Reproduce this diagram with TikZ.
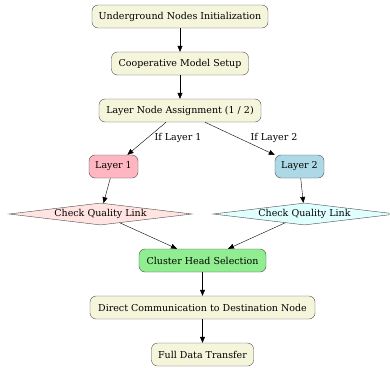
\documentclass[tikz,border=0pt]{standalone}
\usepackage{fontspec}
\setmainfont{DejaVu Serif}
\usetikzlibrary{shapes.geometric,arrows.meta}

\definecolor{beigebox}{HTML}{F5F5DC}
\definecolor{layerone}{HTML}{FFB6C1}
\definecolor{layertwo}{HTML}{ADD8E6}
\definecolor{checkone}{HTML}{FFE4E1}
\definecolor{checktwo}{HTML}{E0FFFF}
\definecolor{headgreen}{HTML}{90EE90}

\begin{document}
\begin{tikzpicture}[x=1pt,y=-1pt,
    >={Triangle[length=6pt,width=5pt]},
    box/.style={draw=black!70, rounded corners=6pt, minimum height=23pt,
      inner xsep=3pt, font=\fontsize{9.5}{11}\selectfont, fill=beigebox},
    check/.style={draw=black!70, diamond, shape aspect=8, minimum width=183pt,
      minimum height=22pt, inner sep=0pt, font=\fontsize{9.5}{11}\selectfont},
    lbl/.style={font=\fontsize{9.5}{11}\selectfont}]
      \useasboundingbox (0,0) rectangle (390,367);
      \node [box, minimum width=176pt] (init) at (180,16.5) {Underground Nodes Initialization};
      \node [box, minimum width=137pt] (coop) at (180,63.5) {Cooperative Model Setup};
      \node [box, minimum width=162pt] (assign) at (180,110.5) {Layer Node Assignment (1 / 2)};
      \node [box, minimum width=49pt, fill=layerone] (lone) at (113.5,166.5) {Layer 1};
      \node [box, minimum width=49pt, fill=layertwo] (ltwo) at (299.5,166.5) {Layer 2};
      \node [check, fill=checkone] (cone) at (100.5,214) {Check Quality Link};
      \node [check, fill=checktwo] (ctwo) at (304.5,214) {Check Quality Link};
      \node [box, minimum width=127pt, fill=headgreen] (head) at (202.5,260.5) {Cluster Head Selection};
      \node [box, minimum width=225pt] (direct) at (202.5,307.5) {Direct Communication to Destination Node};
      \node [box, minimum width=102pt] (full) at (202.5,354.5) {Full Data Transfer};
      \draw [->] (init) -- (coop);
      \draw [->] (coop) -- (assign);
      \draw [->] (assign) -- (lone);
      \draw [->] (assign) -- (ltwo);
      \node [lbl, anchor=west] (ifone) at (151,138) {If Layer 1};
      \node [lbl, anchor=west] (iftwo) at (247,138) {If Layer 2};
      \draw [->] (lone) -- (cone);
      \draw [->] (ltwo) -- (ctwo);
      \draw [->] (cone) -- ([xshift=-25.5pt]head.north);
      \draw [->] (ctwo) -- ([xshift=25.5pt]head.north);
      \draw [->] (head) -- (direct);
      \draw [->] (direct) -- (full);
    \end{tikzpicture}
\end{document}
